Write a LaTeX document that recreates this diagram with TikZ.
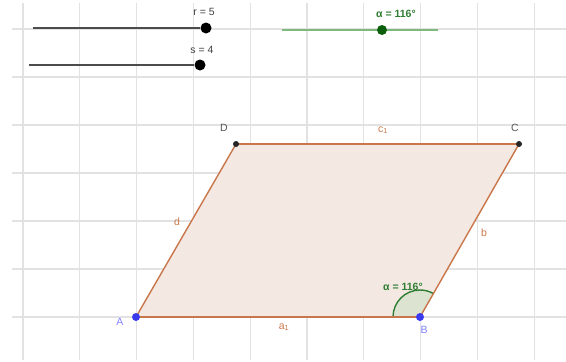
\documentclass[tikz,border=0pt]{standalone}
\usepackage{fontspec}
\setmainfont{Liberation Sans}
\definecolor{gridc}{HTML}{E2E2E2}
\definecolor{edgec}{HTML}{C8764A}
\definecolor{fillc}{HTML}{F3E8E2}
\definecolor{bluept}{HTML}{3A3AEE}
\definecolor{bluelab}{HTML}{8080FF}
\definecolor{grylab}{HTML}{555555}
\definecolor{angc}{HTML}{2E7D32}
\definecolor{angfill}{HTML}{DCE3D0}
\definecolor{slgreen}{HTML}{7DB87D}
\definecolor{dotgreen}{HTML}{0B5E0B}
\tikzset{
  gridline/.style={draw=gridc, line width=1.1pt},
  edge/.style={draw=edgec, line width=1.4pt},
  lblfont/.style={font=\fontsize{10.5}{12}\selectfont, inner sep=0pt},
  edgelab/.style={lblfont, text=edgec},
  ptlab/.style={lblfont, text=grylab},
  blab/.style={lblfont, text=bluelab},
  bdot/.style={circle, fill=bluept, minimum size=8pt, inner sep=0pt},
  kdot/.style={circle, fill=black!85, minimum size=6pt, inner sep=0pt},
  sldot/.style={circle, fill=black, minimum size=11pt, inner sep=0pt},
  gdot/.style={circle, fill=dotgreen, minimum size=10pt, inner sep=0pt},
  sllab/.style={lblfont, text=black!75},
  glab/.style={font=\fontsize{10.5}{12}\selectfont\bfseries, inner sep=0pt, text=angc},
  slline/.style={draw=black!70, line width=2pt},
}
\begin{document}
\begin{tikzpicture}[x=1pt,y=-1pt]
\useasboundingbox (0,0) rectangle (566,362);
% grid
\foreach \k in {0,...,9} {
  \draw[gridline] ({23+56.8*\k},3) -- ({23+56.8*\k},360);
}
\foreach \k in {0,...,6} {
  \draw[gridline] (12,{317-48*\k}) -- (566,{317-48*\k});
}
% sliders
\coordinate (r0) at (33,28);
\node[sldot] (r1) at (206,28) {};
\draw[slline] (r0) -- (r1);
\node[sllab] (rl) at (204,12) {r = 5};
\coordinate (s0) at (29,65);
\node[sldot] (s1) at (200,65) {};
\draw[slline] (s0) -- (s1);
\node[sllab] (sl) at (202,50) {s = 4};
\coordinate (a0) at (282,29.5);
\coordinate (a2) at (438,29.5);
\draw[draw=slgreen, line width=2pt] (a0) -- (a2);
\node[gdot] (a1) at (382,30) {};
\node[glab] (al) at (396,14) {α = 116°};
% parallelogram
\coordinate (A) at (136,317);
\coordinate (B) at (420,317);
\coordinate (C) at (519,144);
\coordinate (D) at (236,144);
\fill[fillc] (A) -- (B) -- (C) -- (D) -- cycle;
% angle
\fill[angfill] (B) -- ++(180:27pt) arc[start angle=180, end angle=60, radius=27pt] -- cycle;
\draw[draw=angc, line width=1.4pt] (B) ++(180:27pt) arc[start angle=180, end angle=60, radius=27pt];
\draw[edge] (A) -- (B);
\draw[edge] (B) -- (C);
\draw[edge] (C) -- (D);
\draw[edge] (D) -- (A);
\node[bdot] (Ad) at (A) {};
\node[bdot] (Bd) at (B) {};
\node[kdot] (Cd) at (C) {};
\node[kdot] (Dd) at (D) {};
% labels
\node[blab] (Al) at (120,322) {A};
\node[blab] (Bl) at (424,330) {B};
\node[ptlab] (Cl) at (515,128) {C};
\node[ptlab] (Dl) at (224,128) {D};
\node[edgelab] (c1) at (383,130) {c\textsubscript{1}};
\node[edgelab] (bl) at (484,233) {b};
\node[edgelab] (dl) at (177,222) {d};
\node[edgelab] (a1l) at (284,327) {a\textsubscript{1}};
\node[glab] (angl) at (403,287) {α = 116°};
\end{tikzpicture}
\end{document}
